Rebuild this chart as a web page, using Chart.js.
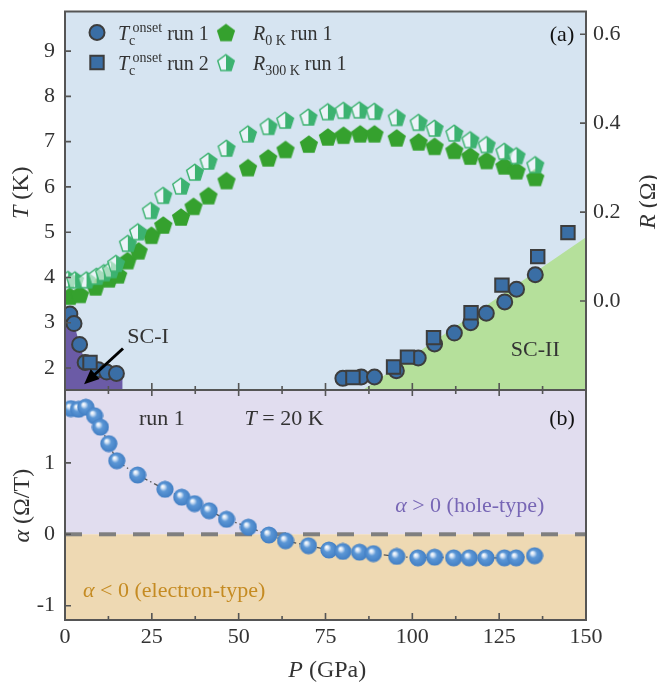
<!DOCTYPE html>
<html>
<head>
<meta charset="utf-8">
<script src="https://cdn.jsdelivr.net/npm/chart.js@4.4.1/dist/chart.umd.min.js"></script>
<style>
  html, body { margin: 0; padding: 0; background: #fff; }
  #wrap { position: relative; width: 657px; height: 683px; }
  #wrap canvas { position: absolute; left: 0; top: 0; }
</style>
</head>
<body>
<div id="wrap">
  <canvas id="topCanvas" width="657" height="683"></canvas>
  <canvas id="bottomCanvas" width="657" height="683"></canvas>
</div>
<script>
// axis ticks
const pTicks = [0, 25, 50, 75, 100, 125, 150];
const pMinor = [12.5, 37.5, 62.5, 87.5, 112.5, 137.5];
const tTicks = [2, 3, 4, 5, 6, 7, 8, 9];
const rTicks = [0, 0.2, 0.4, 0.6];
const aTicks = [-1, 0, 1];

// Tc onset, run 1 (circles)
const tc1P = [1.4, 2.6, 4.2, 5.8, 9.6, 12.0, 14.8, 80.0, 85.3, 89.1, 95.4, 101.7, 106.4, 112.1, 116.8, 121.3, 126.6, 130.0, 135.4];
const tc1T = [3.19, 2.98, 2.52, 2.12, 1.96, 1.91, 1.88, 1.77, 1.80, 1.80, 1.94, 2.22, 2.53, 2.77, 3.00, 3.21, 3.46, 3.74, 4.06];
// Tc onset, run 2 (squares)
const tc2P = [7.2, 82.9, 94.6, 98.6, 106.1, 116.9, 125.8, 136.1, 144.8];
const tc2T = [2.12, 1.79, 2.02, 2.24, 2.67, 3.22, 3.83, 4.46, 4.99];

// R at 0 K, run 1
const r0P = [1.4, 4.3, 8.8, 12.7, 15.3, 18.0, 21.2, 24.9, 28.3, 33.4, 37.0, 41.3, 46.5, 52.7, 58.5, 63.5, 70.2, 75.7, 80.2, 85.0, 89.1, 95.5, 101.8, 106.4, 112.1, 116.7, 121.4, 126.5, 130.0, 135.4];
const r0R = [0.011, 0.015, 0.032, 0.050, 0.059, 0.091, 0.113, 0.148, 0.171, 0.189, 0.213, 0.237, 0.271, 0.300, 0.322, 0.341, 0.353, 0.369, 0.373, 0.376, 0.376, 0.367, 0.358, 0.348, 0.339, 0.326, 0.316, 0.304, 0.293, 0.278];
// R at 300 K, run 1
const r300P = [0.9, 2.9, 6.2, 9.1, 11.2, 13.2, 14.7, 18.1, 21.0, 24.7, 28.3, 33.4, 37.4, 41.3, 46.5, 52.7, 58.6, 63.4, 70.1, 75.7, 80.2, 84.8, 89.1, 95.5, 101.8, 106.4, 112.1, 116.7, 121.4, 126.5, 130.0, 135.4];
const r300R = [0.049, 0.048, 0.048, 0.056, 0.064, 0.071, 0.085, 0.130, 0.156, 0.204, 0.238, 0.259, 0.290, 0.315, 0.344, 0.376, 0.393, 0.407, 0.414, 0.426, 0.429, 0.430, 0.427, 0.413, 0.402, 0.389, 0.378, 0.363, 0.352, 0.337, 0.327, 0.307];

// Hall coefficient alpha at 20 K, run 1
const aP = [1.7, 3.9, 6.0, 8.5, 10.2, 12.6, 14.9, 20.9, 28.8, 33.6, 37.3, 41.5, 46.5, 52.8, 58.7, 63.5, 70.1, 76.0, 80.0, 84.8, 88.8, 95.5, 101.6, 106.4, 111.9, 116.4, 121.2, 126.5, 129.9, 135.2];
const aVal = [1.76, 1.75, 1.78, 1.66, 1.50, 1.27, 1.03, 0.83, 0.63, 0.52, 0.43, 0.33, 0.21, 0.10, -0.01, -0.09, -0.16, -0.22, -0.24, -0.25, -0.27, -0.31, -0.33, -0.32, -0.33, -0.33, -0.33, -0.33, -0.33, -0.30];

// superconducting regions (boundaries)
const sc1P = [0, 1.4, 2.6, 4.2, 5.8, 9.6, 14.8, 16.6, 16.6];
const sc1T = [3.3, 3.19, 2.98, 2.52, 2.12, 1.96, 1.88, 1.88, 1.51];
const sc2P = [85.7, 150];
const sc2T = [1.51, 4.89];
const zeroP = [0, 150];
const zeroA = [0, 0];

const SERIF = '"Liberation Serif", "Times New Roman", serif';
const INK = '#333333';
const FRAME = '#555555';
const fnt = (size, italic) => (italic ? 'italic ' : '') + size + 'px ' + SERIF;
const xy = (xs, ys) => xs.map((x, i) => ({x: x, y: ys[i]}));

function pentagon(g, cx, cy, R) {
    g.beginPath();
    for (let k = 0; k < 5; k++) {
        const a = -Math.PI / 2 + k * 2 * Math.PI / 5;
        const px = cx + R * Math.cos(a), py = cy + R * Math.sin(a);
        if (k) g.lineTo(px, py); else g.moveTo(px, py);
    }
    g.closePath();
}

function makePentagon(half) {
    const c = document.createElement('canvas');
    c.width = 22; c.height = 22;
    const g = c.getContext('2d');
    if (!half) {
        pentagon(g, 11, 11.9, 9.6);
        g.fillStyle = '#35a12e';
        g.fill();
    } else {
        pentagon(g, 11, 11.9, 8.7);
        g.fillStyle = 'rgba(255,255,255,0.55)';
        g.fill();
        g.save();
        g.beginPath(); g.rect(11, 0, 11, 22); g.clip();
        pentagon(g, 11, 11.9, 8.7);
        g.fillStyle = '#3cb270';
        g.fill();
        g.restore();
        pentagon(g, 11, 11.9, 8.7);
        g.strokeStyle = '#3cb270';
        g.lineWidth = 1.4;
        g.stroke();
    }
    return c;
}

function makeSphere() {
    const c = document.createElement('canvas');
    c.width = 18; c.height = 18;
    const g = c.getContext('2d');
    const grad = g.createRadialGradient(6.5, 6, 0.3, 9, 9, 9);
    grad.addColorStop(0, '#ffffff');
    grad.addColorStop(0.18, '#cfe0f4');
    grad.addColorStop(0.42, '#5c97d6');
    grad.addColorStop(1, '#3f7cc2');
    g.beginPath(); g.arc(9, 9, 8.6, 0, Math.PI * 2);
    g.fillStyle = grad; g.fill();
    return c;
}

const pentFull = makePentagon(false);
const pentHalf = makePentagon(true);
const sphere = makeSphere();

// text made of runs with different fonts (italics, sub/superscripts)
function rich(ctx, runs, x, y, opt) {
    opt = opt || {};
    ctx.save();
    ctx.translate(x, y);
    if (opt.rotate) ctx.rotate(opt.rotate);
    ctx.textAlign = 'left';
    ctx.textBaseline = 'alphabetic';
    let total = 0;
    runs.forEach(r => {
        ctx.font = r.font;
        r.w = ctx.measureText(r.text).width;
        if (!r.stay) total += r.w;
    });
    let cx = opt.align === 'center' ? -total / 2 : opt.align === 'right' ? -total : 0;
    runs.forEach(r => {
        ctx.font = r.font;
        ctx.fillStyle = r.color || opt.color || INK;
        ctx.fillText(r.text, cx, r.dy || 0);
        if (!r.stay) cx += r.w;
    });
    ctx.restore();
}

function tickSet(ctx, scale, values, len, horizontal, edge, dir) {
    ctx.beginPath();
    values.forEach(v => {
        const p = scale.getPixelForValue(v);
        if (horizontal) { ctx.moveTo(p, edge); ctx.lineTo(p, edge + dir * len); }
        else { ctx.moveTo(edge, p); ctx.lineTo(edge + dir * len, p); }
    });
    ctx.stroke();
}

function frame(ctx, a) {
    ctx.strokeStyle = FRAME;
    ctx.lineWidth = 2;
    ctx.strokeRect(a.left, a.top, a.right - a.left, a.bottom - a.top);
}

const tickFont = {family: SERIF, size: 22};

const topDeco = {
    id: 'topDeco',
    beforeDatasetsDraw(chart) {
        const {ctx, chartArea: a} = chart;
        ctx.save();
        ctx.fillStyle = '#d6e4f1';
        ctx.fillRect(a.left, a.top, a.right - a.left, a.bottom - a.top);
        ctx.restore();
    },
    afterDraw(chart) {
        const {ctx, chartArea: a, scales} = chart;
        const x = scales.x, y = scales.y, r = scales.yR;
        ctx.save();
        frame(ctx, a);
        ctx.lineWidth = 1.6;
        tickSet(ctx, y, tTicks, 6, false, a.left, 1);
        tickSet(ctx, r, rTicks, 6, false, a.right, -1);
        tickSet(ctx, x, pTicks, 7, true, a.bottom, -1);
        tickSet(ctx, x, pMinor, 4, true, a.bottom, -1);

        // SC-I arrow
        const x0 = x.getPixelForValue(16.7), y0 = y.getPixelForValue(2.43);
        const x1 = x.getPixelForValue(5.5), y1 = y.getPixelForValue(1.64);
        const ang = Math.atan2(y1 - y0, x1 - x0);
        ctx.strokeStyle = '#000';
        ctx.fillStyle = '#000';
        ctx.lineWidth = 3;
        ctx.beginPath();
        ctx.moveTo(x0, y0);
        ctx.lineTo(x1 - 10 * Math.cos(ang), y1 - 10 * Math.sin(ang));
        ctx.stroke();
        ctx.beginPath();
        ctx.moveTo(x1, y1);
        ctx.lineTo(x1 - 15 * Math.cos(ang) + 6.5 * Math.sin(ang), y1 - 15 * Math.sin(ang) - 6.5 * Math.cos(ang));
        ctx.lineTo(x1 - 15 * Math.cos(ang) - 6.5 * Math.sin(ang), y1 - 15 * Math.sin(ang) + 6.5 * Math.cos(ang));
        ctx.closePath();
        ctx.fill();

        rich(ctx, [{text: 'SC-I', font: fnt(22)}], x.getPixelForValue(23.9), y.getPixelForValue(2.56), {align: 'center'});
        rich(ctx, [{text: 'SC-II', font: fnt(22)}], x.getPixelForValue(135.4), y.getPixelForValue(2.26), {align: 'center'});
        rich(ctx, [{text: '(a)', font: fnt(22)}], a.right - 24, a.top + 29, {align: 'center', color: '#111'});

        // legend
        const lx1 = a.left + 32, lx2 = a.left + 161;
        const ly1 = a.top + 21, ly2 = a.top + 51;
        ctx.lineWidth = 2;
        ctx.strokeStyle = '#3d3d3d';
        ctx.fillStyle = '#3a6ea5';
        ctx.beginPath(); ctx.arc(lx1, ly1, 7.5, 0, Math.PI * 2); ctx.fill(); ctx.stroke();
        ctx.beginPath(); ctx.rect(lx1 - 6.7, ly2 - 6.7, 13.4, 13.4); ctx.fill(); ctx.stroke();
        ctx.drawImage(pentFull, lx2 - 11, ly1 - 11);
        ctx.drawImage(pentHalf, lx2 - 11, ly2 - 11);
        const tcRuns = run => [
            {text: 'T', font: fnt(20, true)},
            {text: 'c', font: fnt(14), dy: 5, stay: true},
            {text: ' onset', font: fnt(14), dy: -8},
            {text: ' run ' + run, font: fnt(20)}
        ];
        rich(ctx, tcRuns(1), a.left + 53, ly1 + 7);
        rich(ctx, tcRuns(2), a.left + 53, ly2 + 7);
        rich(ctx, [{text: 'R', font: fnt(20, true)}, {text: '0 K', font: fnt(14), dy: 5}, {text: ' run 1', font: fnt(20)}], a.left + 188, ly1 + 7);
        rich(ctx, [{text: 'R', font: fnt(20, true)}, {text: '300 K', font: fnt(14), dy: 5}, {text: ' run 1', font: fnt(20)}], a.left + 188, ly2 + 7);

        // axis titles
        rich(ctx, [{text: 'T', font: fnt(24, true)}, {text: ' (K)', font: fnt(24)}], 28, (a.top + a.bottom) / 2 - 8, {align: 'center', rotate: -Math.PI / 2});
        rich(ctx, [{text: 'R', font: fnt(24, true)}, {text: ' (\u03A9)', font: fnt(24)}], 655, (a.top + a.bottom) / 2 + 1, {align: 'center', rotate: -Math.PI / 2});
        ctx.restore();
    }
};

const bottomDeco = {
    id: 'bottomDeco',
    beforeDatasetsDraw(chart) {
        const {ctx, chartArea: a, scales} = chart;
        const y0 = scales.y.getPixelForValue(0);
        ctx.save();
        ctx.fillStyle = '#e1ddef';
        ctx.fillRect(a.left, a.top, a.right - a.left, y0 - a.top);
        ctx.fillStyle = '#eed9b3';
        ctx.fillRect(a.left, y0, a.right - a.left, a.bottom - y0);
        ctx.restore();
    },
    afterDraw(chart) {
        const {ctx, chartArea: a, scales} = chart;
        const x = scales.x, y = scales.y;
        ctx.save();
        frame(ctx, a);
        ctx.lineWidth = 1.6;
        tickSet(ctx, y, aTicks, 6, false, a.left, 1);
        tickSet(ctx, x, pTicks, 7, true, a.bottom, -1);
        tickSet(ctx, x, pMinor, 4, true, a.bottom, -1);
        tickSet(ctx, x, pTicks, 6, true, a.top, 1);
        tickSet(ctx, x, pMinor, 4, true, a.top, 1);

        rich(ctx, [{text: '(b)', font: fnt(22)}], a.right - 24, a.top + 35, {align: 'center', color: '#111'});
        rich(ctx, [{text: 'run 1', font: fnt(22)}], x.getPixelForValue(27.9), a.top + 35, {align: 'center'});
        rich(ctx, [{text: 'T', font: fnt(22, true)}, {text: ' = 20 K', font: fnt(22)}], x.getPixelForValue(51.7), a.top + 35);
        rich(ctx, [{text: '\u03B1', font: fnt(22, true)}, {text: ' > 0 (hole-type)', font: fnt(22)}],
            x.getPixelForValue(138), y.getPixelForValue(0.31), {align: 'right', color: '#7766b5'});
        rich(ctx, [{text: '\u03B1', font: fnt(22, true)}, {text: ' < 0 (electron-type)', font: fnt(22)}],
            x.getPixelForValue(5.2), y.getPixelForValue(-0.88), {color: '#c58b22'});

        rich(ctx, [{text: '\u03B1', font: fnt(24, true)}, {text: ' (\u03A9/T)', font: fnt(24)}], 29, y.getPixelForValue(0.4), {align: 'center', rotate: -Math.PI / 2});
        rich(ctx, [{text: 'P', font: fnt(24, true)}, {text: ' (GPa)', font: fnt(24)}], x.getPixelForValue(75.5), 677, {align: 'center'});
        ctx.restore();
    }
};

const fixTicks = list => scale => { scale.ticks = list.map(v => ({value: v})); };
const fixWidth = w => scale => { scale.width = w; scale.paddingTop = 0; scale.paddingBottom = 0; };
const fixHeight = h => scale => { scale.height = h; scale.paddingLeft = 0; scale.paddingRight = 0; };

new Chart(document.getElementById('topCanvas'), {
    type: 'scatter',
    data: {
        datasets: [
            {label: 'SC-I', data: xy(sc1P, sc1T), showLine: true, pointRadius: 0, borderWidth: 0, borderColor: 'transparent',
             backgroundColor: '#6b5ba6', fill: 'start', tension: 0, yAxisID: 'y', order: 20},
            {label: 'SC-II', data: xy(sc2P, sc2T), showLine: true, pointRadius: 0, borderWidth: 0, borderColor: 'transparent',
             backgroundColor: '#b5e09b', fill: 'start', tension: 0, yAxisID: 'y', order: 19},
            {label: 'R0K run 1', data: xy(r0P, r0R), pointStyle: pentFull, pointRadius: 9, yAxisID: 'yR', order: 7},
            {label: 'R300K run 1', data: xy(r300P, r300R), pointStyle: pentHalf, pointRadius: 9, yAxisID: 'yR', order: 6},
            {label: 'Tc onset run 1', data: xy(tc1P, tc1T), pointStyle: 'circle', pointRadius: 7.5,
             backgroundColor: '#3a6ea5', borderColor: '#3d3d3d', borderWidth: 2, yAxisID: 'y', order: 3},
            {label: 'Tc onset run 2', data: xy(tc2P, tc2T), pointStyle: 'rect', pointRadius: 9.5,
             backgroundColor: '#3a6ea5', borderColor: '#3d3d3d', borderWidth: 2, yAxisID: 'y', order: 2}
        ]
    },
    options: {
        responsive: false,
        animation: false,
        events: [],
        layout: {padding: {top: 7, bottom: 293, left: 0, right: 0}},
        plugins: {legend: {display: false}, tooltip: {enabled: false}},
        scales: {
            x: {type: 'linear', min: 0, max: 150, display: false},
            y: {
                type: 'linear', position: 'left', min: 1.513, max: 9.876,
                afterBuildTicks: fixTicks(tTicks), afterFit: fixWidth(65),
                grid: {display: false, drawTicks: false}, border: {display: false},
                ticks: {font: tickFont, color: INK, padding: 10}
            },
            yR: {
                type: 'linear', axis: 'y', position: 'right', min: -0.2, max: 0.651,
                afterBuildTicks: fixTicks(rTicks), afterFit: fixWidth(71),
                grid: {display: false, drawTicks: false}, border: {display: false},
                ticks: {font: tickFont, color: INK, padding: 7, callback: v => v.toFixed(1)}
            }
        }
    },
    plugins: [topDeco]
});

new Chart(document.getElementById('bottomCanvas'), {
    type: 'scatter',
    data: {
        datasets: [
            {label: 'zero', data: xy(zeroP, zeroA), showLine: true, pointRadius: 0, borderColor: '#7f7f7f',
             borderWidth: 4, borderDash: [17, 17], order: 10},
            {label: 'alpha run 1', data: xy(aP, aVal), showLine: true, borderColor: '#555', borderWidth: 1.3,
             borderDash: [6, 3, 1.5, 3], pointStyle: sphere, pointRadius: 8.5, order: 1}
        ]
    },
    options: {
        responsive: false,
        animation: false,
        events: [],
        layout: {padding: {top: 390, bottom: 0, left: 0, right: 71}},
        plugins: {legend: {display: false}, tooltip: {enabled: false}},
        scales: {
            x: {
                type: 'linear', min: 0, max: 150,
                afterBuildTicks: fixTicks(pTicks), afterFit: fixHeight(63),
                grid: {display: false, drawTicks: false}, border: {display: false},
                ticks: {font: tickFont, color: INK, padding: 4}
            },
            y: {
                type: 'linear', position: 'left', min: -1.2, max: 2.02,
                afterBuildTicks: fixTicks(aTicks), afterFit: fixWidth(65),
                grid: {display: false, drawTicks: false}, border: {display: false},
                ticks: {font: tickFont, color: INK, padding: 10}
            }
        }
    },
    plugins: [bottomDeco]
});
</script>
</body>
</html>
